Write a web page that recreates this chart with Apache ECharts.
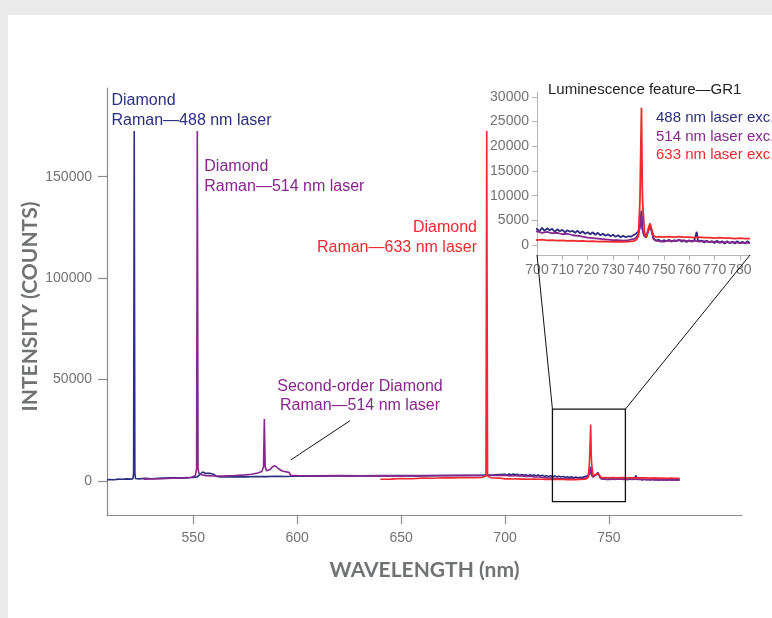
<!DOCTYPE html>
<html>
<head>
<meta charset="utf-8">
<script src="https://cdn.jsdelivr.net/npm/echarts@6/dist/echarts.min.js"></script>
<style>
html,body{margin:0;padding:0;background:#ebebeb;}
#c{width:772px;height:618px;}
</style>
</head>
<body>
<div id="c"></div>
<script>
// ---------- data (wavelength nm, intensity counts) ----------
const blue488 = [
[508.5,500],[510,700],[512,600],[514,900],[516,800],[518,1000],[520,900],[521,1100],[521.3,4000],[521.6,172500],[521.9,4000],[522.2,1200],
[524,1000],[527,1300],[530,1100],[535,1400],[540,1500],[545,1400],[550,1700],[552,2000],[553,3000],[554.5,4400],[556,3700],[558,3800],[560,3200],[561,2300],
[563,2000],[566,1900],[570,2100],[575,2000],[580,2200],[585,2100],[590,2300],[595,2200],[600,2400],[610,2300],[620,2500],[630,2400],[640,2500],
[650,2600],[660,2500],[670,2700],[680,2800],[690,2900],[695,3000],
[700,3300],[701,2800],[702,3500],[703,2900],[704,3400],[705,3000],[706,3300],[707,2700],[708,3200],[709,2800],[710,3100],[711,2600],[712,3000],
[713,2700],[714,2900],[715,2500],[716,2900],[717,2400],[718,2800],[719,2300],[720,2600],[721,2200],[722,2600],[723,2100],[724,2500],[725,2000],
[726,2300],[727,1900],[728,2200],[729,1800],[730,2100],[731,1700],[732,2000],[733,1600],[734,1900],[735,1600],[736,1800],[737,1700],[738,2000],
[739,2300],[740,2800],[740.8,4500],[741.2,7000],[741.5,3500],[742.2,2000],[743,1500],[744,3000],[744.6,4000],[745.2,2800],[746,1200],[747,900],
[748,1100],[749,700],[750,1000],[751,800],[752,1100],[753,700],[754,1000],[755,800],[756,1100],[757,700],[758,1000],[759,600],[760,1000],[761,700],
[762,900],[763,2700],[763.5,800],[764,600],[765,900],[766,500],[767,900],[768,600],[769,800],[770,400],[771,900],[772,500],[773,800],[774,300],
[775,800],[776,400],[777,700],[778,300],[779,800],[780,400],[781,700],[782,300],[783,800],[784,400]
];
const purple514 = [
[526,900],[530,1000],[535,1100],[540,1300],[545,1500],[549,1800],[551,2500],[551.6,6000],[551.95,172500],[552.3,6000],[552.8,3500],[554,3000],
[556,2600],[560,2400],[565,2500],[570,2700],[575,3000],[578,3300],[581,3900],[583,4600],[583.8,7000],[584.2,30500],[584.6,7000],[585.2,5000],
[586,4800],[587,5600],[588,6800],[589,7500],[590,7000],[591,6000],[592.5,5000],[594,4600],[596,4300],[596.6,4400],[597,2700],[600,2600],
[610,2500],[620,2600],[630,2500],[640,2600],[650,2500],[660,2600],[670,2600],[680,2700],[690,2600],[695,2700],
[700,2800],[702,2500],[704,2700],[706,2400],[708,2500],[710,2200],[712,2300],[714,2000],[716,1900],[718,1700],[720,1500],[722,1400],[724,1300],
[726,1200],[728,1100],[730,1000],[732,1000],[734,900],[736,1000],[738,1200],[739,1500],[740,2200],[740.8,4000],[741.2,6500],[741.5,3500],
[742.2,2000],[743,1600],[744,3200],[744.6,4200],[745.2,3000],[746,1300],[747,900],[748,800],[750,700],[752,900],[754,800],[756,1000],[758,900],
[760,800],[762,900],[764,700],[766,800],[768,600],[770,700],[772,500],[774,600],[776,500],[778,600],[780,400],[782,500],[784,400]
];
const red633 = [
[640,800],[645,900],[650,1200],[655,1100],[660,1400],[665,1300],[670,1600],[675,1500],[680,1700],[685,1600],[689,1700],[690.8,2500],
[691.2,172500],[691.6,2500],[693,1600],[697,1400],
[700,1000],[702,1100],[704,950],[706,1000],[708,900],[710,950],[712,850],[714,900],[716,800],[718,850],[720,750],[722,800],[724,700],[726,750],
[728,700],[730,650],[732,700],[734,650],[736,700],[738,800],[739,1000],[740,1800],[740.6,9000],[741.2,27800],[741.5,12000],[741.7,8200],
[742.0,8000],[742.4,2500],[743,1600],[744,3500],[744.6,4400],[745.2,3200],[746,1900],[747,1600],[748,1700],[750,1600],[752,1700],[754,1600],
[756,1700],[758,1600],[760,1600],[762,1500],[764,1600],[766,1500],[768,1500],[770,1400],[772,1500],[774,1400],[776,1400],[778,1300],[780,1400],
[782,1300],[784,1300]
];
const mainXTicks = [550, 600, 650, 700, 750];
const mainYTicks = [0, 50000, 100000, 150000];
const insetXTicks = [700, 710, 720, 730, 740, 750, 760, 770, 780];
const insetYTicks = [0, 5000, 10000, 15000, 20000, 25000, 30000];
const zoomBox = {x0: 722.8, x1: 757.9, y0: -10200, y1: 35400};

// ---------- styles ----------
const C_BLUE = '#2c2f7f', C_PURPLE = '#86278e', C_RED = '#ee2a2f';
const GREY = '#717274';
const FONT = '"Liberation Sans", Arial, Helvetica, sans-serif';
const TITLE_FONT = 'Lato, "Open Sans", sans-serif';
const plain = v => String(v);

const chart = echarts.init(document.getElementById('c'), null, {renderer: 'canvas'});

function lineSeries(data, color, gi, z, w) {
  return {
    type: 'line', data: data, xAxisIndex: gi, yAxisIndex: gi,
    showSymbol: false, symbol: 'none', smooth: false, clip: true,
    lineStyle: {color: color, width: w}, z: z, animation: false
  };
}

const option = {
  animation: false,
  backgroundColor: '#ebebeb',
  grid: [
    {left: 107, top: 88, width: 635, height: 427},
    {left: 537, top: 92, width: 213, height: 163}
  ],
  xAxis: [
    {
      type: 'value', gridIndex: 0, min: 508.5, max: 814,
      name: 'WAVELENGTH (nm)', nameLocation: 'middle', nameGap: 45, nameMoveOverlap: false,
      nameTextStyle: {fontFamily: TITLE_FONT, fontWeight: 'bold', fontSize: 21, color: GREY},
      axisLine: {show: true, onZero: false, lineStyle: {color: '#8c8c8c', width: 1.2}},
      axisTick: {show: true, length: 9, customValues: mainXTicks, lineStyle: {color: '#8c8c8c', width: 1.2}},
      axisLabel: {customValues: mainXTicks, formatter: plain, margin: 16, fontSize: 14, fontFamily: FONT, color: GREY},
      splitLine: {show: false}
    },
    {
      type: 'value', gridIndex: 1, min: 700, max: 784,
      axisLine: {show: true, onZero: false, lineStyle: {color: '#b5b5b5', width: 1}},
      axisTick: {show: true, length: 5, customValues: insetXTicks, lineStyle: {color: '#b5b5b5'}},
      axisLabel: {customValues: insetXTicks, formatter: plain, margin: 8, fontSize: 14, fontFamily: FONT, color: GREY},
      splitLine: {show: false}
    }
  ],
  yAxis: [
    {
      type: 'value', gridIndex: 0, min: -16800, max: 193700,
      name: 'INTENSITY (COUNTS)', nameLocation: 'middle', nameGap: 66, nameRotate: 90, nameMoveOverlap: false,
      nameTextStyle: {fontFamily: TITLE_FONT, fontWeight: 'bold', fontSize: 21, color: GREY, padding: [0, 10, 0, 0]},
      axisLine: {show: true, onZero: false, lineStyle: {color: '#8c8c8c', width: 1.2}},
      axisTick: {show: true, length: 9, customValues: mainYTicks, lineStyle: {color: '#8c8c8c', width: 1.2}},
      axisLabel: {customValues: mainYTicks, formatter: plain, margin: 15, fontSize: 14, fontFamily: FONT, color: GREY},
      splitLine: {show: false}
    },
    {
      type: 'value', gridIndex: 1, min: -2000, max: 31000,
      axisLine: {show: true, onZero: false, lineStyle: {color: '#b5b5b5', width: 1}},
      axisTick: {show: true, length: 5, customValues: insetYTicks, lineStyle: {color: '#b5b5b5'}},
      axisLabel: {customValues: insetYTicks, formatter: plain, margin: 8, fontSize: 14, fontFamily: FONT, color: GREY},
      splitLine: {show: false}
    }
  ],
  series: [
    lineSeries(blue488, C_BLUE, 0, 3, 1.6),
    lineSeries(purple514, C_PURPLE, 0, 4, 1.6),
    lineSeries(red633, C_RED, 0, 5, 1.6),
    lineSeries(blue488, C_BLUE, 1, 3, 1.8),
    lineSeries(purple514, C_PURPLE, 1, 4, 1.8),
    lineSeries(red633, C_RED, 1, 5, 1.8)
  ]
};
chart.setOption(option);

// ---------- annotations ----------
const bl = chart.convertToPixel({gridIndex: 0}, [zoomBox.x0, zoomBox.y0]);
const tr = chart.convertToPixel({gridIndex: 0}, [zoomBox.x1, zoomBox.y1]);
const inL = chart.convertToPixel({gridIndex: 1}, [700, -2000]);
const inR = chart.convertToPixel({gridIndex: 1}, [784, -2000]);

function txt(text, x, y, color, size, align, lh) {
  return {type: 'text', z: 20, style: {text: text, x: x, y: y, fill: color,
    font: size + 'px ' + FONT, align: align || 'left', verticalAlign: 'top', lineHeight: lh || 20}};
}

chart.setOption({
  graphic: [
    {type: 'rect', z: -10, silent: true, shape: {x: 8, y: 15, width: 764, height: 603}, style: {fill: '#ffffff'}},
    {type: 'rect', z: 10, shape: {x: bl[0], y: tr[1], width: tr[0] - bl[0], height: bl[1] - tr[1]},
      style: {fill: 'none', stroke: '#111', lineWidth: 1.3}},
    {type: 'line', z: 10, shape: {x1: bl[0], y1: tr[1], x2: inL[0], y2: inL[1]}, style: {stroke: '#111', lineWidth: 1}},
    {type: 'line', z: 10, shape: {x1: tr[0], y1: tr[1], x2: inR[0], y2: inR[1]}, style: {stroke: '#111', lineWidth: 1}},
    {type: 'line', z: 10, shape: {x1: 350, y1: 420.7, x2: 290.7, y2: 460}, style: {stroke: '#111', lineWidth: 1}},
    txt('Diamond\nRaman\u2014488 nm laser', 111.5, 90.7, C_BLUE, 16),
    txt('Diamond\nRaman\u2014514 nm laser', 204.3, 156.7, C_PURPLE, 16),
    txt('Diamond\nRaman\u2014633 nm laser', 477, 217.3, C_RED, 16, 'right'),
    txt('Second-order Diamond\nRaman\u2014514 nm laser', 360, 377.5, C_PURPLE, 16, 'center', 19),
    {type: 'text', z: 20, style: {text: 'Luminescence feature\u2014GR1', x: 548, y: 90, fill: '#222',
      font: '15px ' + FONT, verticalAlign: 'middle'}},
    txt('488 nm laser exc.', 656, 108, C_BLUE, 15, 'left', 19),
    txt('514 nm laser exc.', 656, 127.5, C_PURPLE, 15, 'left', 19),
    txt('633 nm laser exc.', 656, 145.5, C_RED, 15, 'left', 19)
  ]
});
</script>
</body>
</html>
